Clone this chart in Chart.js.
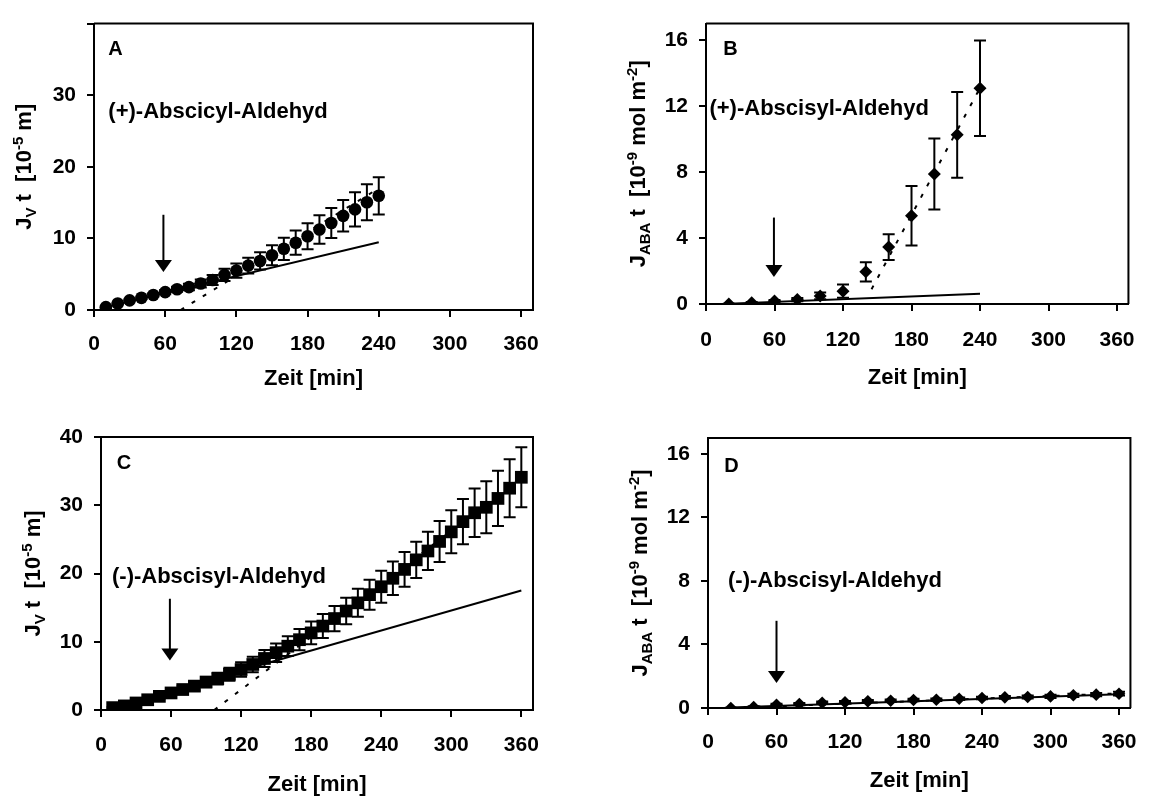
<!DOCTYPE html>
<html>
<head>
<meta charset="utf-8">
<script src="https://cdn.jsdelivr.net/npm/chart.js@4.4.1/dist/chart.umd.min.js"></script>
<style>
html,body{margin:0;padding:0;background:#fff;}
#wrap{position:relative;width:1152px;height:796px;overflow:hidden;}
canvas{position:absolute;display:block;}
</style>
</head>
<body>
<div id="wrap">
<canvas id="cA" width="576" height="398" style="left:0px;top:0px;width:576px;height:398px"></canvas>
<canvas id="cB" width="576" height="398" style="left:576px;top:0px;width:576px;height:398px"></canvas>
<canvas id="cC" width="576" height="398" style="left:0px;top:398px;width:576px;height:398px"></canvas>
<canvas id="cD" width="576" height="398" style="left:576px;top:398px;width:576px;height:398px"></canvas>
</div>
<script>
// ---------------- DATA ----------------
const xTickVals = [0, 60, 120, 180, 240, 300, 360];
const xTickLabels = ['0', '60', '120', '180', '240', '300', '360'];
const yTickValsJv = [0, 10, 20, 30, 40];
const yTickLabelsA = ['0', '10', '20', '30', ''];
const yTickLabelsC = ['0', '10', '20', '30', '40'];
const yTickValsAba = [0, 4, 8, 12, 16];
const yTickLabelsAba = ['0', '4', '8', '12', '16'];

// Panel A: (+)-Abscicyl-Aldehyd, Jv t
const timeA = [10,20,30,40,50,60,70,80,90,100,110,120,130,140,150,160,170,180,190,200,210,220,230,240];
const jvA   = [0.4,0.9,1.35,1.7,2.1,2.5,2.9,3.2,3.7,4.2,4.9,5.5,6.2,6.85,7.65,8.55,9.4,10.3,11.25,12.15,13.15,14.05,15.05,15.95];
const errA  = [0.05,0.08,0.1,0.15,0.2,0.3,0.35,0.45,0.55,0.7,0.85,1.0,1.1,1.2,1.4,1.55,1.7,1.8,2.0,2.1,2.2,2.4,2.5,2.6];
const fitSolidTimeA = [10, 240];
const fitSolidValA  = [0.4, 9.46];
const fitDotTimeA   = [73, 240];
const fitDotValA    = [0, 17];

// Panel B: (+)-Abscisyl-Aldehyd, JABA t
const timeB = [20,40,60,80,100,120,140,160,180,200,220,240];
const jabaB = [0.0,0.08,0.18,0.27,0.49,0.78,1.95,3.45,5.35,7.88,10.26,13.08];
const errB  = [0.02,0.04,0.06,0.1,0.2,0.4,0.58,0.78,1.8,2.15,2.6,2.9];
const fitSolidTimeB = [20, 240];
const fitSolidValB  = [0.02, 0.62];
const fitDotTimeB   = [145, 240];
const fitDotValB    = [0.9, 13.1];

// Panel C: (-)-Abscisyl-Aldehyd, Jv t
const timeC = [10,20,30,40,50,60,70,80,90,100,110,120,130,140,150,160,170,180,190,200,210,220,230,240,250,260,270,280,290,300,310,320,330,340,350,360];
const jvC   = [0.35,0.6,1.03,1.5,2.0,2.5,3.0,3.5,4.1,4.6,5.24,5.93,6.67,7.55,8.4,9.35,10.3,11.3,12.3,13.4,14.5,15.7,16.9,18.06,19.3,20.6,22.0,23.3,24.7,26.1,27.6,28.9,29.7,31.0,32.5,34.1];
const errC  = [0.1,0.15,0.2,0.25,0.35,0.45,0.55,0.65,0.75,0.85,0.95,1.05,1.15,1.25,1.35,1.45,1.55,1.65,1.75,1.85,1.95,2.05,2.2,2.35,2.45,2.55,2.65,2.8,3.0,3.15,3.3,3.55,3.8,4.05,4.25,4.4];
const fitSolidTimeC = [10, 360];
const fitSolidValC  = [0.4, 17.5];
const fitDotTimeC   = [97, 360];
const fitDotValC    = [0, 34];

// Panel D: (-)-Abscisyl-Aldehyd, JABA t
const timeD = [20,40,60,80,100,120,140,160,180,200,220,240,260,280,300,320,340,360];
const jabaD = [0.0,0.06,0.2,0.25,0.33,0.36,0.42,0.46,0.5,0.52,0.58,0.63,0.67,0.69,0.73,0.8,0.84,0.9];
const errD  = [0.02,0.05,0.06,0.07,0.08,0.08,0.08,0.08,0.08,0.08,0.08,0.08,0.08,0.09,0.1,0.1,0.1,0.12];
const fitSolidTimeD = [20, 360];
const fitSolidValD  = [0.03, 0.87];
const fitDotTimeD   = [20, 360];
const fitDotValD    = [0.0, 0.92];

// ---------------- RENDERING ----------------
const FONT = '"Liberation Sans", Arial, Helvetica, sans-serif';
const pts = (t, v) => t.map((tt, i) => ({x: tt, y: v[i]}));

function drawRichVertical(ctx, segs, bx, cy) {
  const big = 22, small = 15;
  let total = 0;
  const widths = segs.map(s => {
    ctx.font = 'bold ' + (s[1] === 'n' ? big : small) + 'px ' + FONT;
    const w = ctx.measureText(s[0]).width;
    total += w;
    return w;
  });
  ctx.save();
  ctx.translate(bx, cy);
  ctx.rotate(-Math.PI / 2);
  ctx.fillStyle = '#000';
  ctx.textAlign = 'left';
  ctx.textBaseline = 'alphabetic';
  let cx = -total / 2;
  segs.forEach((s, i) => {
    ctx.font = 'bold ' + (s[1] === 'n' ? big : small) + 'px ' + FONT;
    const dy = s[1] === 'sub' ? 5 : (s[1] === 'sup' ? -8 : 0);
    ctx.fillText(s[0], cx, dy);
    cx += widths[i];
  });
  ctx.restore();
}

function makeDecor(cfg) {
  return {
    id: 'decor',
    afterDatasetsDraw(chart) {
      const ctx = chart.ctx, a = chart.chartArea, xs = chart.scales.x, ys = chart.scales.y;
      ctx.save();
      ctx.beginPath();
      ctx.rect(a.left, a.top, a.right - a.left, a.bottom - a.top);
      ctx.clip();
      ctx.strokeStyle = '#000';
      ctx.lineWidth = 2;
      cfg.err.t.forEach((t, i) => {
        const px = xs.getPixelForValue(t);
        const y1 = ys.getPixelForValue(cfg.err.v[i] + cfg.err.e[i]);
        const y2 = ys.getPixelForValue(cfg.err.v[i] - cfg.err.e[i]);
        ctx.beginPath();
        ctx.moveTo(px, y1); ctx.lineTo(px, y2);
        ctx.moveTo(px - 6, y1); ctx.lineTo(px + 6, y1);
        ctx.moveTo(px - 6, y2); ctx.lineTo(px + 6, y2);
        ctx.stroke();
      });
      ctx.restore();
    },
    afterDraw(chart) {
      const ctx = chart.ctx, a = chart.chartArea, xs = chart.scales.x, ys = chart.scales.y;
      ctx.save();
      // frame top & right
      ctx.strokeStyle = '#000';
      ctx.lineWidth = 2;
      ctx.beginPath();
      ctx.moveTo(a.left, a.top); ctx.lineTo(a.right, a.top); ctx.lineTo(a.right, a.bottom);
      ctx.stroke();
      // arrow
      const ax = xs.getPixelForValue(cfg.arrow.t);
      const aTop = ys.getPixelForValue(cfg.arrow.from);
      const aTip = ys.getPixelForValue(cfg.arrow.to);
      ctx.lineWidth = 2;
      ctx.beginPath(); ctx.moveTo(ax, aTop); ctx.lineTo(ax, aTip - 10); ctx.stroke();
      ctx.fillStyle = '#000';
      ctx.beginPath();
      ctx.moveTo(ax - 8.5, aTip - 12); ctx.lineTo(ax + 8.5, aTip - 12); ctx.lineTo(ax, aTip);
      ctx.closePath(); ctx.fill();
      // texts
      ctx.textAlign = 'left';
      ctx.textBaseline = 'alphabetic';
      cfg.texts.forEach(tx => {
        ctx.font = 'bold ' + tx.size + 'px ' + FONT;
        ctx.fillText(tx.text, xs.getPixelForValue(tx.t), ys.getPixelForValue(tx.v));
      });
      // y title
      drawRichVertical(ctx, cfg.ytitle, cfg.ytitleX, (a.top + a.bottom) / 2);
      ctx.restore();
    }
  };
}

function makeChart(id, p) {
  const tickFont = {family: FONT, size: 21, weight: 'bold'};
  const datasets = [
    {data: pts(p.time, p.vals), showLine: false, pointStyle: p.pointStyle, pointRadius: p.pointRadius,
     backgroundColor: '#000', borderColor: '#000', borderWidth: 0, pointHoverRadius: p.pointRadius},
    {data: pts(p.solidT, p.solidV), showLine: true, pointRadius: 0, borderColor: '#000', borderWidth: 2, fill: false},
    {data: pts(p.dotT, p.dotV), showLine: true, pointRadius: 0, borderColor: '#000', borderWidth: 2, borderDash: [4, 9], fill: false}
  ];
  return new Chart(document.getElementById(id), {
    type: 'scatter',
    data: {datasets},
    options: {
      responsive: false,
      animation: false,
      events: [],
      layout: {padding: {left: 0, top: p.padTop, right: p.padRight, bottom: 0}},
      plugins: {legend: {display: false}, tooltip: {enabled: false}},
      scales: {
        x: {
          type: 'linear', min: 0, max: 370,
          afterFit(s) { s.height = p.xH; },
          afterBuildTicks(s) { s.ticks = xTickVals.map(v => ({value: v})); },
          ticks: {font: tickFont, color: '#000', padding: p.xTickPad, maxRotation: 0, autoSkip: false,
                  callback: (v) => xTickLabels[xTickVals.indexOf(v)]},
          grid: {display: true, drawOnChartArea: false, drawTicks: true, tickLength: 7, lineWidth: 2, color: '#000'},
          border: {display: true, width: 2, color: '#000'},
          title: {display: true, text: 'Zeit [min]', color: '#000',
                  font: {family: FONT, size: 22, weight: 'bold', lineHeight: 1},
                  padding: {top: 0, bottom: p.xTitlePad}}
        },
        y: {
          type: 'linear', min: 0, max: p.yMax,
          afterFit(s) { s.width = p.yW; },
          afterBuildTicks(s) { s.ticks = p.yTickVals.map(v => ({value: v})); },
          ticks: {font: tickFont, color: '#000', padding: 11, autoSkip: false,
                  callback: (v) => p.yTickLabels[p.yTickVals.indexOf(v)]},
          grid: {display: true, drawOnChartArea: false, drawTicks: true, tickLength: 7, lineWidth: 2, color: '#000'},
          border: {display: true, width: 2, color: '#000'}
        }
      }
    },
    plugins: [makeDecor(p.decor)]
  });
}

const titleJv = [['J', 'n'], ['V', 'sub'], [' t  [10', 'n'], ['-5', 'sup'], [' m]', 'n']];
const titleAba = [['J', 'n'], ['ABA', 'sub'], [' t  [10', 'n'], ['-9', 'sup'], [' mol m', 'n'], ['-2', 'sup'], [']', 'n']];

makeChart('cA', {
  time: timeA, vals: jvA, pointStyle: 'circle', pointRadius: 6.3,
  solidT: fitSolidTimeA, solidV: fitSolidValA, dotT: fitDotTimeA, dotV: fitDotValA,
  padTop: 13, padRight: 43, yW: 94, xH: 88, xTickPad: 15, xTitlePad: 8,
  yMax: 40, yTickVals: yTickValsJv, yTickLabels: yTickLabelsA,
  decor: {
    err: {t: timeA, v: jvA, e: errA},
    arrow: {t: 58.5, from: 13.3, to: 5.3},
    texts: [{text: 'A', t: 12.1, v: 35.58, size: 20}, {text: '(+)-Abscicyl-Aldehyd', t: 12.1, v: 26.8, size: 22}],
    ytitle: titleJv, ytitleX: 30.5
  }
});

makeChart('cB', {
  time: timeB, vals: jabaB, pointStyle: 'rectRot', pointRadius: 6.5,
  solidT: fitSolidTimeB, solidV: fitSolidValB, dotT: fitDotTimeB, dotV: fitDotValB,
  padTop: 13, padRight: 17, yW: 130, xH: 94, xTickPad: 17, xTitlePad: 9,
  yMax: 17, yTickVals: yTickValsAba, yTickLabels: yTickLabelsAba,
  decor: {
    err: {t: timeB, v: jabaB, e: errB},
    arrow: {t: 59.5, from: 5.24, to: 1.63},
    texts: [{text: 'B', t: 15.1, v: 15.08, size: 20}, {text: '(+)-Abscisyl-Aldehyd', t: 3.0, v: 11.43, size: 22}],
    ytitle: titleAba, ytitleX: 69
  }
});

makeChart('cC', {
  time: timeC, vals: jvC, pointStyle: 'rect', pointRadius: 9,
  solidT: fitSolidTimeC, solidV: fitSolidValC, dotT: fitDotTimeC, dotV: fitDotValC,
  padTop: 39, padRight: 43, yW: 101, xH: 86, xTickPad: 16, xTitlePad: 0.5,
  yMax: 40, yTickVals: yTickValsJv, yTickLabels: yTickLabelsC,
  decor: {
    err: {t: timeC, v: jvC, e: errC},
    arrow: {t: 59, from: 16.3, to: 7.25},
    texts: [{text: 'C', t: 13.5, v: 35.24, size: 20}, {text: '(-)-Abscisyl-Aldehyd', t: 9.4, v: 18.6, size: 22}],
    ytitle: titleJv, ytitleX: 39.5
  }
});

makeChart('cD', {
  time: timeD, vals: jabaD, pointStyle: 'rectRot', pointRadius: 6.3,
  solidT: fitSolidTimeD, solidV: fitSolidValD, dotT: fitDotTimeD, dotV: fitDotValD,
  padTop: 40, padRight: 17, yW: 132, xH: 88, xTickPad: 15, xTitlePad: 3.7,
  yMax: 17, yTickVals: yTickValsAba, yTickLabels: yTickLabelsAba,
  decor: {
    err: {t: timeD, v: jabaD, e: errD},
    arrow: {t: 60, from: 5.49, to: 1.57},
    texts: [{text: 'D', t: 14.3, v: 14.84, size: 20}, {text: '(-)-Abscisyl-Aldehyd', t: 17.5, v: 7.59, size: 22}],
    ytitle: titleAba, ytitleX: 70.5
  }
});
</script>
</body>
</html>
